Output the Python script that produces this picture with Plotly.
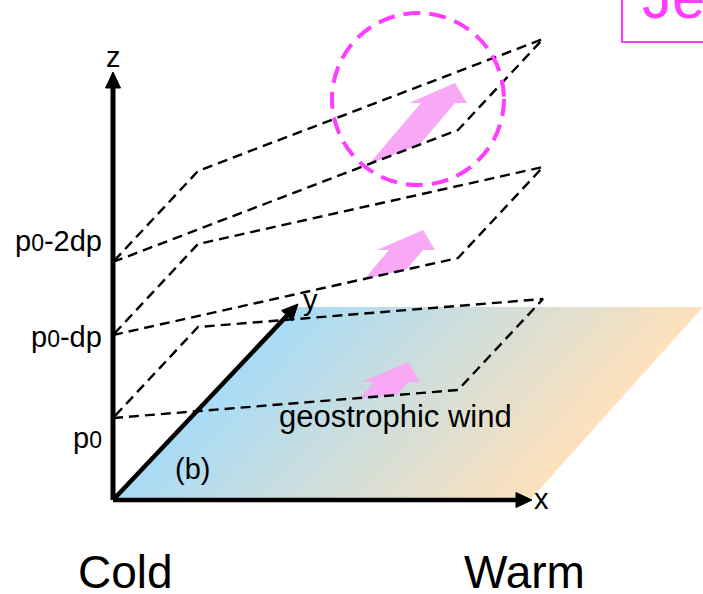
import numpy as np
import plotly.graph_objects as go

W, H = 703, 594
FONT = "Liberation Sans, Arial, sans-serif"
MAGENTA = "#ff3cff"
PINK = "#f9a8f5"

# ---- oblique frame (drawing units = pixels) ----
origin = (113, 500)
x_axis_tip = (532, 500)
z_axis_tip = (113, 72)
y_axis_tip = (298, 304)

# ---- ground surface, cold (left) to warm (right) ----
surface_bottom_x = [113, 530]
surface_top_x = [297, 703]
surface_y = [500, 307]
cold_rgb = [168, 219, 246]
warm_rgb = [253, 225, 188]

# ---- isobaric surfaces ----
level_labels = [
    "p<span style='font-size:23px'>0</span>",
    "p<span style='font-size:23px'>0</span>-dp",
    "p<span style='font-size:23px'>0</span>-2dp",
]
level_left_y = [418, 335, 262]      # where each surface meets the z axis
level_front_rise = [28, 77, 132]    # rise of the front edge towards the warm side
level_label_y = [438, 337, 241]
front_run = 345
depth = (85, -91)

# ---- geostrophic wind arrows (one per level) ----
wind_tip_x = [408, 423, 455]
wind_tip_y = [362, 230, 83]
wind_slope = 0.85    # dx per unit of upward dy
head_len = 20
head_half = 29
shaft_half = 17

# ---- highlight circle ----
circle_x = [332, 504]
circle_y = [13, 185]

fig = go.Figure()
shapes = []

# gradient ground surface built from thin strips
N = 120
for i in range(N):
    t0 = i / N
    t1 = min(1.0, (i + 1) / N + 0.004)
    tm = (i + 0.5) / N
    rgb = [int(round(c + (w - c) * tm)) for c, w in zip(cold_rgb, warm_rgb)]
    bx0 = surface_bottom_x[0] + t0 * (surface_bottom_x[1] - surface_bottom_x[0])
    bx1 = surface_bottom_x[0] + t1 * (surface_bottom_x[1] - surface_bottom_x[0])
    tx0 = surface_top_x[0] + t0 * (surface_top_x[1] - surface_top_x[0])
    tx1 = surface_top_x[0] + t1 * (surface_top_x[1] - surface_top_x[0])
    path = (f"M {bx0:.2f},{surface_y[0]} L {bx1:.2f},{surface_y[0]} "
            f"L {tx1:.2f},{surface_y[1]} L {tx0:.2f},{surface_y[1]} Z")
    shapes.append(dict(type="path", path=path, xref="x", yref="y",
                       fillcolor=f"rgb({rgb[0]},{rgb[1]},{rgb[2]})",
                       line=dict(width=0), layer="below"))


def clip_to_front(level, x0, y0):
    # shaft side line x = x0 - k (y - y0) intersected with the level's front edge
    a = level_front_rise[level] / front_run
    L = level_left_y[level]
    k = wind_slope
    y = (L - a * (x0 + k * y0 - origin[0])) / (1 - a * k)
    x = x0 - k * (y - y0)
    return x, y


# pink wind arrows
for lev in range(3):
    tx, ty = wind_tip_x[lev], wind_tip_y[lev]
    by = ty + head_len
    bx = tx - wind_slope * head_len
    lx, ly = clip_to_front(lev, bx - shaft_half, by)
    rx, ry = clip_to_front(lev, bx + shaft_half, by)
    xs = [lx, bx - shaft_half, bx - head_half, tx, bx + head_half, bx + shaft_half, rx, lx]
    ys = [ly, by, by, ty, by, by, ry, ly]
    fig.add_trace(go.Scatter(x=xs, y=ys, mode="lines", fill="toself",
                             fillcolor=PINK, line=dict(width=0, color=PINK),
                             hoverinfo="skip"))

# dashed isobaric surfaces
for lev in range(3):
    fl = (origin[0], level_left_y[lev])
    fr = (origin[0] + front_run, level_left_y[lev] - level_front_rise[lev])
    br = (fr[0] + depth[0], fr[1] + depth[1])
    bl = (fl[0] + depth[0], fl[1] + depth[1])
    pts = [fl, fr, br, bl, fl]
    fig.add_trace(go.Scatter(x=[p[0] for p in pts], y=[p[1] for p in pts],
                             mode="lines",
                             line=dict(color="black", width=2.4, dash="10px,6px"),
                             hoverinfo="skip"))


def arrow_head(tail, tip, length, half):
    tail = np.array(tail, float)
    tip = np.array(tip, float)
    u = (tip - tail) / np.linalg.norm(tip - tail)
    n = np.array([-u[1], u[0]])
    base = tip - u * length
    pts = [base + n * half, tip, base - n * half, base + n * half]
    return [p[0] for p in pts], [p[1] for p in pts], base


for tip, width in [(z_axis_tip, 5), (x_axis_tip, 4.5), (y_axis_tip, 4.5)]:
    hx, hy, base = arrow_head(origin, tip, 16, 7.5)
    fig.add_trace(go.Scatter(x=[origin[0], base[0]], y=[origin[1], base[1]],
                             mode="lines", line=dict(color="black", width=width),
                             hoverinfo="skip"))
    fig.add_trace(go.Scatter(x=hx, y=hy, mode="lines", fill="toself",
                             fillcolor="black", line=dict(color="black", width=1),
                             hoverinfo="skip"))

# magenta highlight circle
shapes.append(dict(type="circle", xref="x", yref="y",
                   x0=circle_x[0], x1=circle_x[1], y0=circle_y[0], y1=circle_y[1],
                   line=dict(color=MAGENTA, width=4, dash="17px,9px"), layer="above"))
# "Je" box (cut at the top-right corner)
shapes.append(dict(type="rect", xref="x", yref="y", x0=622, x1=760, y0=-30, y1=42,
                   line=dict(color=MAGENTA, width=2), layer="above"))

ann = []


def label(text, x, y, size=29, xanchor="center", yanchor="middle", color="black"):
    ann.append(dict(text=text, x=x, y=y, xref="x", yref="y", showarrow=False,
                    xanchor=xanchor, yanchor=yanchor,
                    font=dict(family=FONT, size=size, color=color)))


label("z", z_axis_tip[0], 57)
label("x", 541, 499)
label("y", 310, 300)
for lev in range(3):
    label(level_labels[lev], 104, level_label_y[lev], xanchor="right")
label("(b)", 192, 469)
label("geostrophic wind", 395, 416, size=31)
label("Cold", 125, 572, size=46)
label("Warm", 524, 572, size=46)
label("Je", 640, 33, size=60, xanchor="left", yanchor="bottom", color=MAGENTA)

fig.update_layout(
    width=W, height=H, autosize=False,
    margin=dict(l=0, r=0, t=0, b=0),
    paper_bgcolor="white", plot_bgcolor="white",
    showlegend=False,
    xaxis=dict(range=[0, W], visible=False, fixedrange=True),
    yaxis=dict(range=[H, 0], visible=False, fixedrange=True),
    shapes=shapes, annotations=ann,
)
fig.write_html(
    "out.html",
    config={"displayModeBar": False},
    post_script="document.body.style.margin='0';document.body.style.overflow='hidden';",
)
